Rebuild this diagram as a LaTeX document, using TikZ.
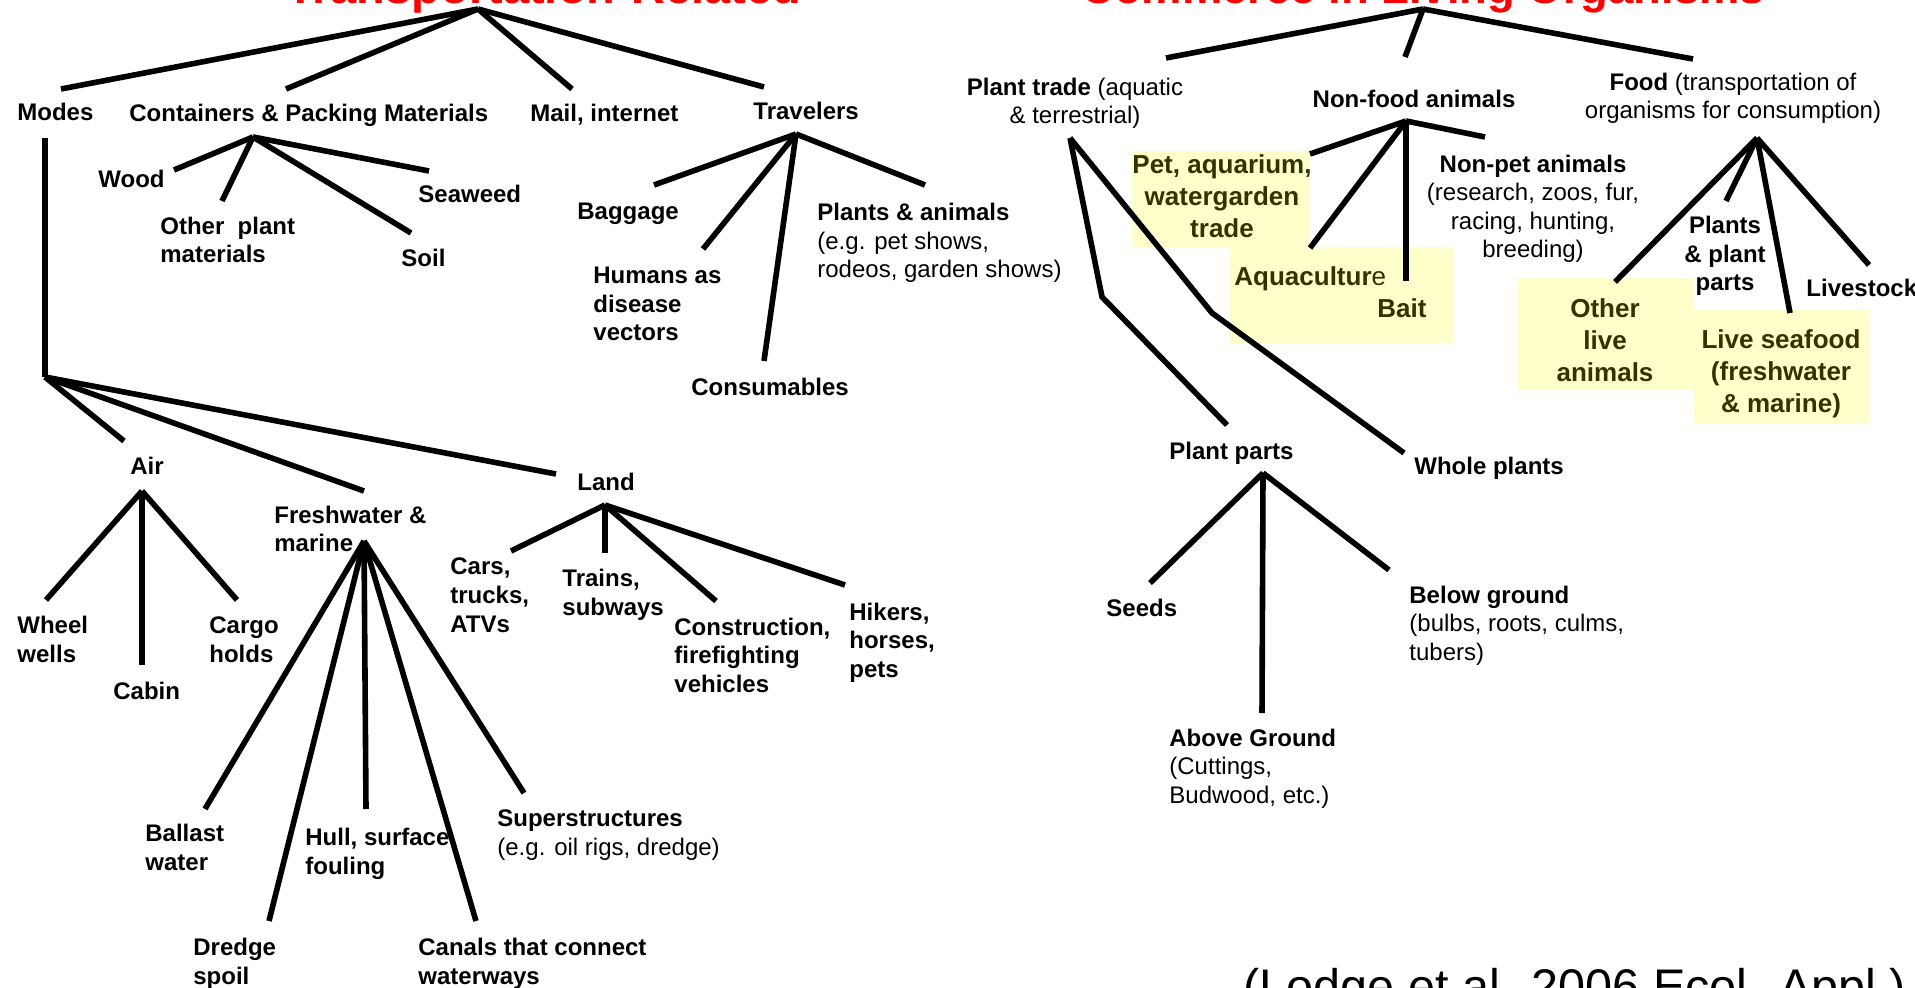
\documentclass[tikz,border=0pt]{standalone}
\usepackage{fontspec}
\setmainfont{Liberation Sans}
\definecolor{hlyellow}{HTML}{FFFFCC}
\definecolor{hltext}{HTML}{333300}

\begin{document}
\begin{tikzpicture}[x=0.5pt,y=-0.5pt,
        branch/.style={line width=2.8pt},
        lbl/.style={inner sep=0pt,anchor=base west,align=left,font=\fontsize{12}{14.25}\selectfont\bfseries},
        lblc/.style={lbl,anchor=base,align=center},
        hl/.style={inner sep=0pt,anchor=base,align=center,text=hltext,font=\fontsize{13}{16}\selectfont\bfseries},
        title/.style={inner sep=0pt,anchor=base west,text=red,font=\fontsize{23.5}{28}\selectfont\bfseries}]
        \useasboundingbox (0,0) rectangle (1915,988);
        \clip (0,0) rectangle (1915,988);

        \fill[hlyellow] (1132,151) rectangle (1310,247);
        \fill[hlyellow] (1229,247) rectangle (1454,343);
        \fill[hlyellow] (1517,278) rectangle (1694,390);
        \fill[hlyellow] (1694,310) rectangle (1869,423);

        \node[title] (ttrans) at (286,4) {Transportation-Related};
        \node[title,font=\fontsize{22.7}{28}\selectfont\bfseries] (tcomm) at (1081,4) {Commerce in Living Organisms};
        \node[inner sep=0pt,anchor=base west,font=\fontsize{24.3}{29}\selectfont] (cite) at (1243,1003) {(Lodge et al. 2006 Ecol. Appl.)};

        \coordinate (trans) at (478,9);
        \coordinate (modes-t) at (61,89);
        \coordinate (cont-t) at (286,89);
        \coordinate (mail-t) at (572,89);
        \coordinate (trav-t) at (764,87);
        \coordinate (modes-top) at (45,138);
        \coordinate (modes) at (45,377);
        \coordinate (air-t) at (124,441);
        \coordinate (fresh-t) at (364,491);
        \coordinate (land-t) at (556,474);
        \coordinate (cont) at (253,137);
        \coordinate (wood-t) at (174,170);
        \coordinate (other-t) at (222,201);
        \coordinate (soil-t) at (411,233);
        \coordinate (seaweed-t) at (429,171);
        \coordinate (trav) at (796,134);
        \coordinate (baggage-t) at (654,185);
        \coordinate (humans-t) at (703,249);
        \coordinate (consum-t) at (764,361);
        \coordinate (plants-t) at (925,185);
        \coordinate (air) at (142,491);
        \coordinate (wheel-t) at (46,600);
        \coordinate (cabin-t) at (142,665);
        \coordinate (cargo-t) at (237,600);
        \coordinate (fresh) at (364,541);
        \coordinate (ballast-t) at (205,809);
        \coordinate (dredge-t) at (269,921);
        \coordinate (hull-t) at (366,809);
        \coordinate (canals-t) at (476,921);
        \coordinate (super-t) at (524,793);
        \coordinate (land) at (605,505);
        \coordinate (cars-t) at (511,551);
        \coordinate (trains-t) at (605,553);
        \coordinate (constr-t) at (716,601);
        \coordinate (hikers-t) at (845,585);

        \coordinate (comm) at (1423,9);
        \coordinate (ptrade-t) at (1166,58);
        \coordinate (nonfood-t) at (1405,57);
        \coordinate (food-t) at (1693,59);
        \coordinate (ptrade) at (1070,138);
        \coordinate (ptbend1) at (1102,297);
        \coordinate (pparts-t) at (1227,425);
        \coordinate (ptbend2) at (1212,313);
        \coordinate (whole-t) at (1404,453);
        \coordinate (pparts) at (1263,473);
        \coordinate (seeds-t) at (1150,583);
        \coordinate (above-t) at (1262,713);
        \coordinate (below-t) at (1389,570);
        \coordinate (nonfood) at (1406,121);
        \coordinate (nonpet-t) at (1485,137);
        \coordinate (pet-t) at (1310,154);
        \coordinate (aqua-t) at (1310,248);
        \coordinate (bait-t) at (1406,281);
        \coordinate (food) at (1757,138);
        \coordinate (otherlive-t) at (1615,282);
        \coordinate (plantsf-t) at (1726,201);
        \coordinate (seafood-t) at (1790,313);
        \coordinate (livestock-t) at (1869,265);

        \foreach \e in {modes-t,cont-t,mail-t,trav-t} \draw[branch] (trans) -- (\e);
        \draw[branch] (modes-top) -- (modes);
        \foreach \e in {air-t,fresh-t,land-t} \draw[branch] (modes) -- (\e);
        \foreach \e in {wood-t,other-t,soil-t,seaweed-t} \draw[branch] (cont) -- (\e);
        \foreach \e in {baggage-t,humans-t,consum-t,plants-t} \draw[branch] (trav) -- (\e);
        \foreach \e in {wheel-t,cabin-t,cargo-t} \draw[branch] (air) -- (\e);
        \foreach \e in {ballast-t,dredge-t,hull-t,canals-t,super-t} \draw[branch] (fresh) -- (\e);
        \foreach \e in {cars-t,trains-t,constr-t,hikers-t} \draw[branch] (land) -- (\e);
        \foreach \e in {ptrade-t,nonfood-t,food-t} \draw[branch] (comm) -- (\e);
        \draw[branch] (ptrade) -- (ptbend1) -- (pparts-t);
        \draw[branch] (ptrade) -- (ptbend2) -- (whole-t);
        \foreach \e in {seeds-t,above-t,below-t} \draw[branch] (pparts) -- (\e);
        \foreach \e in {nonpet-t,pet-t,aqua-t,bait-t} \draw[branch] (nonfood) -- (\e);
        \foreach \e in {otherlive-t,plantsf-t,seafood-t,livestock-t} \draw[branch] (food) -- (\e);

        \node[lbl] (modeslbl) at (17,121) {Modes};
        \node[lbl] (contlbl) at (129,122) {Containers \& Packing Materials};
        \node[lbl] (maillbl) at (530,122) {Mail, internet};
        \node[lbl] (travlbl) at (753,120) {Travelers};
        \node[lbl] (wood) at (98,188) {Wood};
        \node[lbl] (otherplant) at (160,263) {Other\ \ plant\\materials};
        \node[lbl] (seaweed) at (418,203) {Seaweed};
        \node[lbl] (soil) at (401,267) {Soil};
        \node[lbl] (baggage) at (577,220) {Baggage};
        \node[lbl] (humans) at (593,341) {Humans as\\disease\\vectors};
        \node[lbl] (consum) at (691,396) {Consumables};
        \node[lbl] (plantsanimals) at (817,278) {Plants \& animals\\\mdseries (e.g. pet shows,\\\mdseries rodeos, garden shows)};
        \node[lbl] (airlbl) at (130,475) {Air};
        \node[lbl] (freshlbl) at (274,552) {Freshwater \&\\marine};
        \node[lbl] (landlbl) at (577,491) {Land};
        \node[lbl] (wheel) at (17,662) {Wheel\\wells};
        \node[lbl] (cabin) at (113,699) {Cabin};
        \node[lbl] (cargo) at (209,662) {Cargo\\holds};
        \node[lbl] (ballast) at (145,870) {Ballast\\water};
        \node[lbl] (hull) at (305,874) {Hull, surface\\fouling};
        \node[lbl] (dredge) at (193,984) {Dredge\\spoil};
        \node[lbl] (canals) at (418,984) {Canals that connect\\waterways};
        \node[lbl] (superstr) at (497,855) {Superstructures\\\mdseries (e.g. oil rigs, dredge)};
        \node[lbl] (cars) at (450,632) {Cars,\\trucks,\\ATVs};
        \node[lbl] (trains) at (562,615) {Trains,\\subways};
        \node[lbl] (constr) at (674,692) {Construction,\\firefighting\\vehicles};
        \node[lbl] (hikers) at (849,677) {Hikers,\\horses,\\pets};

        \node[lblc] (ptradelbl) at (1075,124) {Plant trade \mdseries(aquatic\\\mdseries \& terrestrial)};
        \node[lblc] (nonfoodlbl) at (1414,108) {Non-food animals};
        \node[lblc] (foodlbl) at (1733,119) {Food \mdseries(transportation of\\\mdseries organisms for consumption)};
        \node[hl] (pet) at (1222,238) {Pet, aquarium,\\watergarden\\trade};
        \node[hl,anchor=base west] (aqua) at (1234,286) {Aquacultur\mdseries e};
        \node[hl] (bait) at (1402,318) {Bait};
        \node[lblc] (nonpet) at (1533,258) {Non-pet animals\\\mdseries (research, zoos, fur,\\\mdseries racing, hunting,\\\mdseries breeding)};
        \node[hl] (otherlive) at (1605,382) {Other\\live\\animals};
        \node[lblc] (plantsf) at (1725,291) {Plants\\\& plant\\parts};
        \node[lbl] (livestock) at (1806,297) {Livestock};
        \node[hl] (seafood) at (1781,413) {Live seafood\\(freshwater\\\& marine)};
        \node[lbl] (wholelbl) at (1414,475) {Whole plants};
        \node[lbl] (ppartslbl) at (1169,460) {Plant parts};
        \node[lbl] (seeds) at (1106,616) {Seeds};
        \node[lbl] (above) at (1169,803) {Above Ground\\\mdseries (Cuttings,\\\mdseries Budwood, etc.)};
        \node[lbl] (below) at (1409,660) {Below ground\\\mdseries (bulbs, roots, culms,\\\mdseries tubers)};
    \end{tikzpicture}
\end{document}
